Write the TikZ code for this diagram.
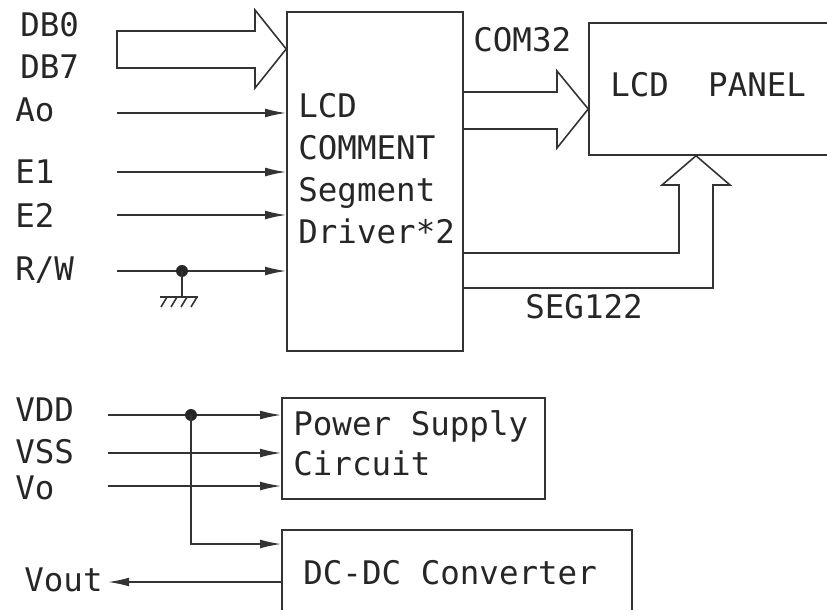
\documentclass[tikz,border=0pt]{standalone}
\usepackage{fontspec}
\setmonofont{DejaVu Sans Mono}
\usetikzlibrary{arrows.meta}

\tikzset{
  wire/.style={draw=black!80, line width=0.9pt},
  sig/.style={wire, -{Latex[length=12pt,width=5pt]}},
  blk/.style={draw=black!80, line width=0.9pt, rectangle, inner sep=0pt},
  lbl/.style={anchor=west, inner sep=0pt, text=black!85, font=\ttfamily\fontsize{18.5}{22}\selectfont},
}

\begin{document}
\begin{tikzpicture}[x=0.02cm,y=-0.02cm]
\useasboundingbox (0,0) rectangle (827,609);
\clip (0,0) rectangle (827,609);
\node[blk, minimum width=3.52cm, minimum height=6.78cm] (drv) at (375,181.5) {};
\node[blk, minimum width=5.62cm, minimum height=2.64cm] (panel) at (729.5,89) {};
\node[blk, minimum width=5.26cm, minimum height=2.02cm] (psu) at (413.5,448.5) {};
\node[blk, minimum width=7cm, minimum height=2.4cm] (dcdc) at (457,590) {};
\node[lbl, align=left, font=\ttfamily\fontsize{18.5}{23.8}\selectfont] (drvtxt) at (298,168.5) {LCD\\COMMENT\\Segment\\Driver*2};
\node[lbl] (paneltxt) at (610,85) {LCD~~PANEL};
\node[lbl, align=left, font=\ttfamily\fontsize{18.5}{22.7}\selectfont] (psutxt) at (293,443) {Power Supply\\Circuit};
\node[lbl] (dcdctxt) at (303,573) {DC-DC Converter};
\node[lbl] (db0) at (20,25) {DB0};
\node[lbl] (db7) at (20,67) {DB7};
\node[lbl] (ao) at (15,110) {Ao};
\node[lbl] (e1) at (15,172) {E1};
\node[lbl] (e2) at (15,215) {E2};
\node[lbl] (rw) at (15,270) {R/W};
\node[lbl] (com) at (473,40) {COM32};
\node[lbl] (seg) at (525,307) {SEG122};
\node[lbl] (vddl) at (15,410) {VDD};
\node[lbl] (vssl) at (15,452) {VSS};
\node[lbl] (vol) at (15,488) {Vo};
\node[lbl] (voutl) at (24,580) {Vout};
\coordinate (dbin) at (117,49);
\draw[wire] (117,31) -- (255,31) -- (255,10) -- (dbin -| drv.west) -- (255,88) -- (255,68) -- (117,68) -- cycle;
\coordinate (inA) at (117,113);
\coordinate (inE1) at (117,172);
\coordinate (inE2) at (117,215);
\coordinate (inRW) at (117,271);
\draw[sig] (inA) -- (inA -| drv.west);
\draw[sig] (inE1) -- (inE1 -| drv.west);
\draw[sig] (inE2) -- (inE2 -| drv.west);
\draw[sig] (inRW) -- (inRW -| drv.west);
\coordinate (gnd) at (182,297);
\fill[black!85] (gnd |- inRW) circle (3.4pt);
\draw[wire] (gnd |- inRW) -- (gnd);
\draw[wire] (160,297) -- (198,297);
\draw[wire] (167,297) -- (161,307);
\draw[wire] (177,297) -- (171,307);
\draw[wire] (187,297) -- (181,307);
\draw[wire] (197,297) -- (191,307);
\coordinate (comA) at (557,92);
\coordinate (comB) at (557,129);
\coordinate (comC) at (557,109);
\draw[wire] (comA -| drv.east) -- (comA) -- (557,71) -- (comC -| panel.west) -- (557,148) -- (comB) -- (comB -| drv.east);
\coordinate (segA) at (679,253);
\coordinate (segB) at (713,288);
\coordinate (segC) at (696,185);
\draw[wire] (segA -| drv.east) -- (segA) -- (679,185) -- (662,185) -- (segC |- panel.south) -- (730,185) -- (713,185) -- (segB) -- (segB -| drv.east);
\coordinate (vdd) at (108,415);
\coordinate (vss) at (108,453);
\coordinate (vo) at (108,486);
\coordinate (jn) at (191,415);
\coordinate (dcin) at (191,544);
\coordinate (vout) at (108,582);
\draw[sig] (vdd) -- (vdd -| psu.west);
\draw[sig] (vss) -- (vss -| psu.west);
\draw[sig] (vo) -- (vo -| psu.west);
\fill[black!85] (jn) circle (3.4pt);
\draw[sig] (jn) -- (dcin) -- (dcin -| dcdc.west);
\draw[sig] (vout -| dcdc.west) -- (vout);
\end{tikzpicture}
\end{document}
